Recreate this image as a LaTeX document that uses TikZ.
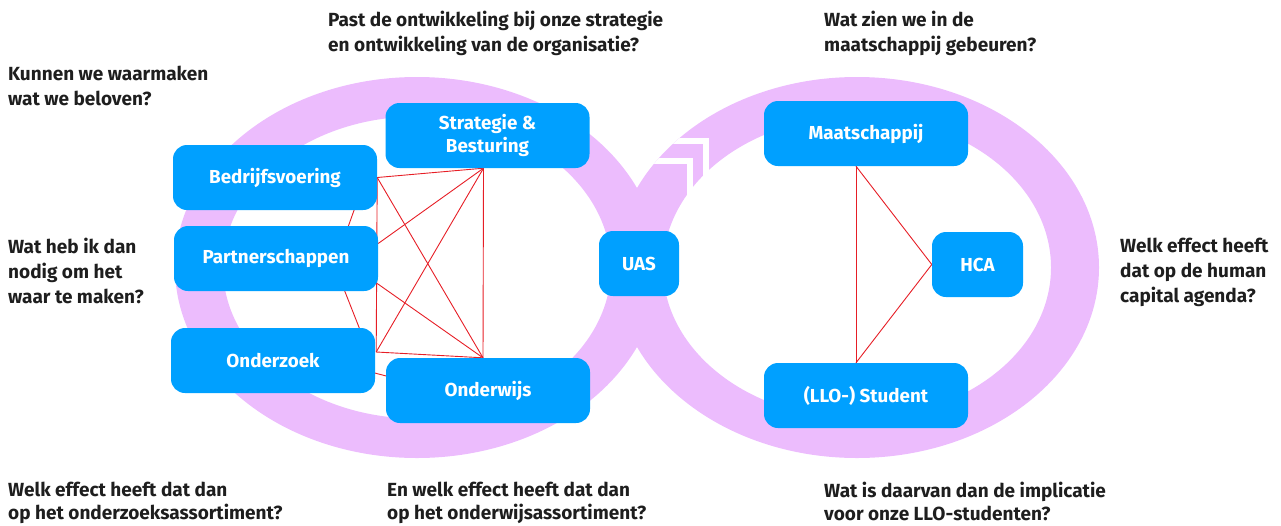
\documentclass[tikz,border=0pt]{standalone}
\usepackage{fontspec}
\setmainfont{Fira Sans}
\usetikzlibrary{calc}
\definecolor{ringpink}{RGB}{236,188,253}
\definecolor{boxblue}{RGB}{0,160,255}
\definecolor{linkred}{RGB}{230,30,38}
\definecolor{qtext}{RGB}{30,30,30}
\pgfdeclarelayer{bg}
\pgfsetlayers{bg,main}
\begin{document}
\begin{tikzpicture}[x=1pt,y=-1pt,
  block/.style={fill=boxblue, rounded corners=14pt, text=white,
    font=\fontsize{18.8}{22.5}\selectfont\bfseries, align=center,
    inner sep=0pt, minimum height=65pt, minimum width=204pt},
  question/.style={text=qtext, font=\fontsize{19}{25}\selectfont\bfseries,
    align=left, anchor=north west, inner sep=0pt},
  tightq/.style={question, font=\fontsize{19}{23}\selectfont\bfseries},
  link/.style={draw=linkred, line width=0.9pt},
  chev/.style={draw=white, line width=5.5pt}]
\useasboundingbox (0,0) rectangle (1281,525);

% the two loops of the infinity band
\begin{pgfonlayer}{bg}
  \fill[ringpink, even odd rule]
    (417,267.5) ellipse [x radius=242pt, y radius=190.5pt]
    (417,267.5) ellipse [x radius=194pt, y radius=151pt];
  \fill[ringpink, even odd rule]
    (857,267.5) ellipse [x radius=242pt, y radius=190.5pt]
    (857,267.5) ellipse [x radius=194pt, y radius=151pt];
  % direction chevrons cut into the right loop
  \begin{scope}
    \clip (857,267.5) ellipse [x radius=242pt, y radius=190.5pt];
    \draw[chev] (668,141) -- (706,141) -- (706,182);
    \draw[chev] (648,161) -- (690,161) -- (690,198);
  \end{scope}
\end{pgfonlayer}

% blocks
\node[block] (strat) at (487.5,135.5) {Strategie \&\\Besturing};
\node[block] (bedr) at (275,177.5) {Bedrijfsvoering};
\node[block] (partn) at (276,258.5) {Partnerschappen};
\node[block] (onderz) at (273,360.5) {Onderzoek};
\node[block] (onderw) at (488,390.5) {Onderwijs};
\node[block, minimum width=80pt] (uas) at (639,263.5) {UAS};
\node[block] (maat) at (866,133.5) {Maatschappij};
\node[block, minimum width=91pt] (hca) at (977.5,264.5) {HCA};
\node[block] (stud) at (866,395.5) {(LLO-) Student};

% red relations
\begin{pgfonlayer}{bg}
  \coordinate (sS) at ($(strat.south)+(-4,0)$);
  \coordinate (oN) at ($(onderw.north)+(-5,0)$);
  \coordinate (pA) at ($(partn.east)+(0,-15)$);
  \coordinate (pB) at ($(partn.east)+(-1,25)$);
  \coordinate (zA) at ($(onderz.east)+(1,-8.5)$);
  \draw[link] (bedr.east) -- (sS);
  \draw[link] (bedr.east) -- (zA);
  \draw[link] (sS) -- (oN);
  \draw[link] (zA) -- (oN);
  \draw[link] (bedr.east) -- (oN);
  \draw[link] (zA) -- (sS);
  \draw[link] (pA) -- (sS);
  \draw[link] (pB) -- (oN);
  \draw[link] ($(bedr.east)+(-15,10)$) -- ($(partn.east)+(-35,-18)$);
  \draw[link] ($(partn.east)+(-40,16)$) -- ($(onderz.east)+(-9,-15)$);
  \draw[link] ($(onderz.east)+(-10,10)$) -- ($(onderw.west)+(10,-12)$);
  \coordinate (mS) at ($(maat.south)+(-10,0)$);
  \coordinate (tN) at ($(stud.north)+(-10,0)$);
  \draw[link] (mS) -- (tN);
  \draw[link] (mS) -- (hca.west);
  \draw[link] (tN) -- (hca.west);
\end{pgfonlayer}

% questions
\node[question] (q1) at (328,11) {Past de ontwikkeling bij onze strategie\\en ontwikkeling van de organisatie?};
\node[question] (q2) at (824,11) {Wat zien we in de\\maatschappij gebeuren?};
\node[question] (q3) at (8,66) {Kunnen we waarmaken\\wat we beloven?};
\node[question] (q4) at (8,238) {Wat heb ik dan\\nodig om het\\waar te maken?};
\node[question] (q5) at (1120,238) {Welk effect heeft\\dat op de human\\capital agenda?};
\node[tightq] (q6) at (8,482) {Welk effect heeft dat dan\\op het onderzoeksassortiment?};
\node[tightq] (q7) at (387,482) {En welk effect heeft dat dan\\op het onderwijsassortiment?};
\node[tightq] (q8) at (824,482) {Wat is daarvan dan de implicatie\\voor onze LLO-studenten?};
\end{tikzpicture}
\end{document}
